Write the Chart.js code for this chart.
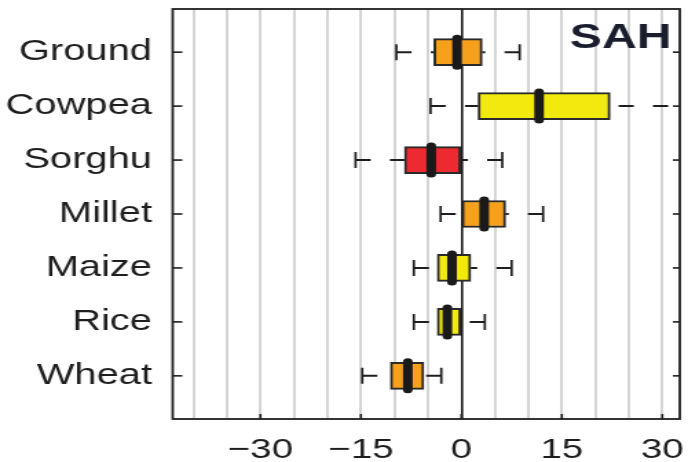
<!DOCTYPE html>
<html>
<head>
<meta charset="utf-8">
<script src="https://cdn.jsdelivr.net/npm/chart.js@4"></script>
<style>
  html, body { margin: 0; padding: 0; background: #fff; overflow: hidden; }
  #wrap { width: 500px; height: 462px; transform: scaleX(1.376); transform-origin: 0 0; }
</style>
</head>
<body>
<div id="wrap"><canvas id="chart-sah"></canvas></div>
<script>
const crops = ['Ground', 'Cowpea', 'Sorghu', 'Millet', 'Maize', 'Rice', 'Wheat'];
const q1 = [-4.1, 2.5, -8.5, 0.1, -3.6, -3.6, -10.6];
const q3 = [3.1, 22.2, -0.1, 6.6, 1.4, -0.1, -5.6];
const median = [-0.65, 11.6, -4.5, 3.4, -1.4, -2.1, -8.0];
const whiskerLo = [-9.7, -4.6, -15.8, -3.1, -7.1, -7.1, -14.8];
const whiskerHi = [8.7, 36, 6.1, 12.2, 7.5, 3.5, -3.0];
const boxColors = ['#f6a01c', '#f2ea0e', '#ec2a30', '#f6a01c', '#f2ea0e', '#f2ea0e', '#f6a01c'];
const xTicks = [-30, -15, 0, 15, 30];

const ink = '#1e1e1e';
const font = 'Liberation Sans, Arial, sans-serif';

const line = (ctx, x1, y1, x2, y2) => {
  ctx.beginPath();
  ctx.moveTo(x1, y1);
  ctx.lineTo(x2, y2);
  ctx.stroke();
};

// whiskers, medians, frame and the panel tag
const boxPlot = {
  id: 'boxPlot',
  afterDatasetsDraw(chart) {
    const { ctx, chartArea: a, scales: { x, y } } = chart;
    ctx.save();
    ctx.beginPath();
    ctx.rect(a.left, a.top, a.width, a.height);
    ctx.clip();
    ctx.strokeStyle = ink;
    crops.forEach((c, i) => {
      const py = y.getPixelForValue(i + 1);
      const lo = x.getPixelForValue(whiskerLo[i]);
      const hi = x.getPixelForValue(whiskerHi[i]);
      ctx.lineWidth = 2;
      ctx.setLineDash([11, 14]);
      line(ctx, lo, py, x.getPixelForValue(q1[i]), py);
      line(ctx, hi, py, x.getPixelForValue(q3[i]), py);
      ctx.setLineDash([]);
      ctx.lineWidth = 1.7;
      line(ctx, lo, py - 8, lo, py + 8);
      line(ctx, hi, py - 8, hi, py + 8);
      const m = x.getPixelForValue(median[i]);
      ctx.lineWidth = 7;
      ctx.lineCap = 'round';
      ctx.strokeStyle = '#1a1a1a';
      line(ctx, m, py - 14, m, py + 14);
      ctx.lineCap = 'butt';
      ctx.strokeStyle = ink;
    });
    ctx.restore();

    ctx.save();
    ctx.strokeStyle = ink;
    ctx.lineWidth = 1.8;
    ctx.strokeRect(a.left, a.top, a.width, a.height);
    ctx.lineWidth = 1.6;
    crops.forEach((c, i) => {
      const py = y.getPixelForValue(i + 1);
      line(ctx, a.left, py, a.left + 7, py);
      line(ctx, a.right - 5, py, a.right, py);
    });
    xTicks.forEach(v => {
      const px = x.getPixelForValue(v);
      line(ctx, px, a.bottom, px, a.bottom - 5);
    });
    ctx.fillStyle = '#1a1d2e';
    ctx.font = `bold 35px ${font}`;
    ctx.textAlign = 'right';
    ctx.textBaseline = 'alphabetic';
    ctx.fillText('SAH', 488, 48);
    ctx.restore();
  }
};

new Chart(document.getElementById('chart-sah'), {
  type: 'bar',
  data: {
    datasets: [
      {
        data: crops.map((c, i) => ({ x: [q1[i], q3[i]], y: i + 1 })),
        backgroundColor: boxColors,
        borderColor: '#2a2a2a',
        borderWidth: 2,
        borderSkipped: false,
        barThickness: 27
      }
    ]
  },
  options: {
    indexAxis: 'y',
    responsive: true,
    maintainAspectRatio: false,
    animation: false,
    events: [],
    layout: { padding: { top: 9, right: 6, left: 0, bottom: 0 } },
    plugins: { legend: { display: false }, tooltip: { enabled: false } },
    scales: {
      x: {
        type: 'linear',
        min: -43.1,
        max: 32.6,
        offset: false,
        afterFit: s => { s.height = 43; s.paddingLeft = 0; s.paddingRight = 0; },
        border: { display: false },
        grid: {
          offset: false,
          drawTicks: false,
          color: c => (c.tick && c.tick.value === 0 ? '#1a1a1a' : '#d4d4d4'),
          lineWidth: c => (c.tick && c.tick.value === 0 ? 1.6 : 2)
        },
        ticks: {
          stepSize: 5,
          includeBounds: false,
          autoSkip: false,
          maxRotation: 0,
          padding: 14,
          color: ink,
          font: { family: font, size: 28 },
          callback: v => (xTicks.includes(v) ? (v < 0 ? '\u2212' + Math.abs(v) : String(v)) : '')
        }
      },
      y: {
        type: 'linear',
        reverse: true,
        min: 0.2,
        max: 7.8,
        offset: false,
        afterFit: s => { s.width = 125.5; s.paddingTop = 0; s.paddingBottom = 0; },
        afterBuildTicks: s => { s.ticks = crops.map((c, i) => ({ value: i + 1 })); },
        border: { display: false },
        grid: { display: false, drawTicks: false, offset: false },
        ticks: {
          autoSkip: false,
          padding: 15,
          color: ink,
          font: { family: font, size: 29 },
          callback: v => crops[v - 1]
        }
      }
    }
  },
  plugins: [boxPlot]
});
</script>
</body>
</html>
